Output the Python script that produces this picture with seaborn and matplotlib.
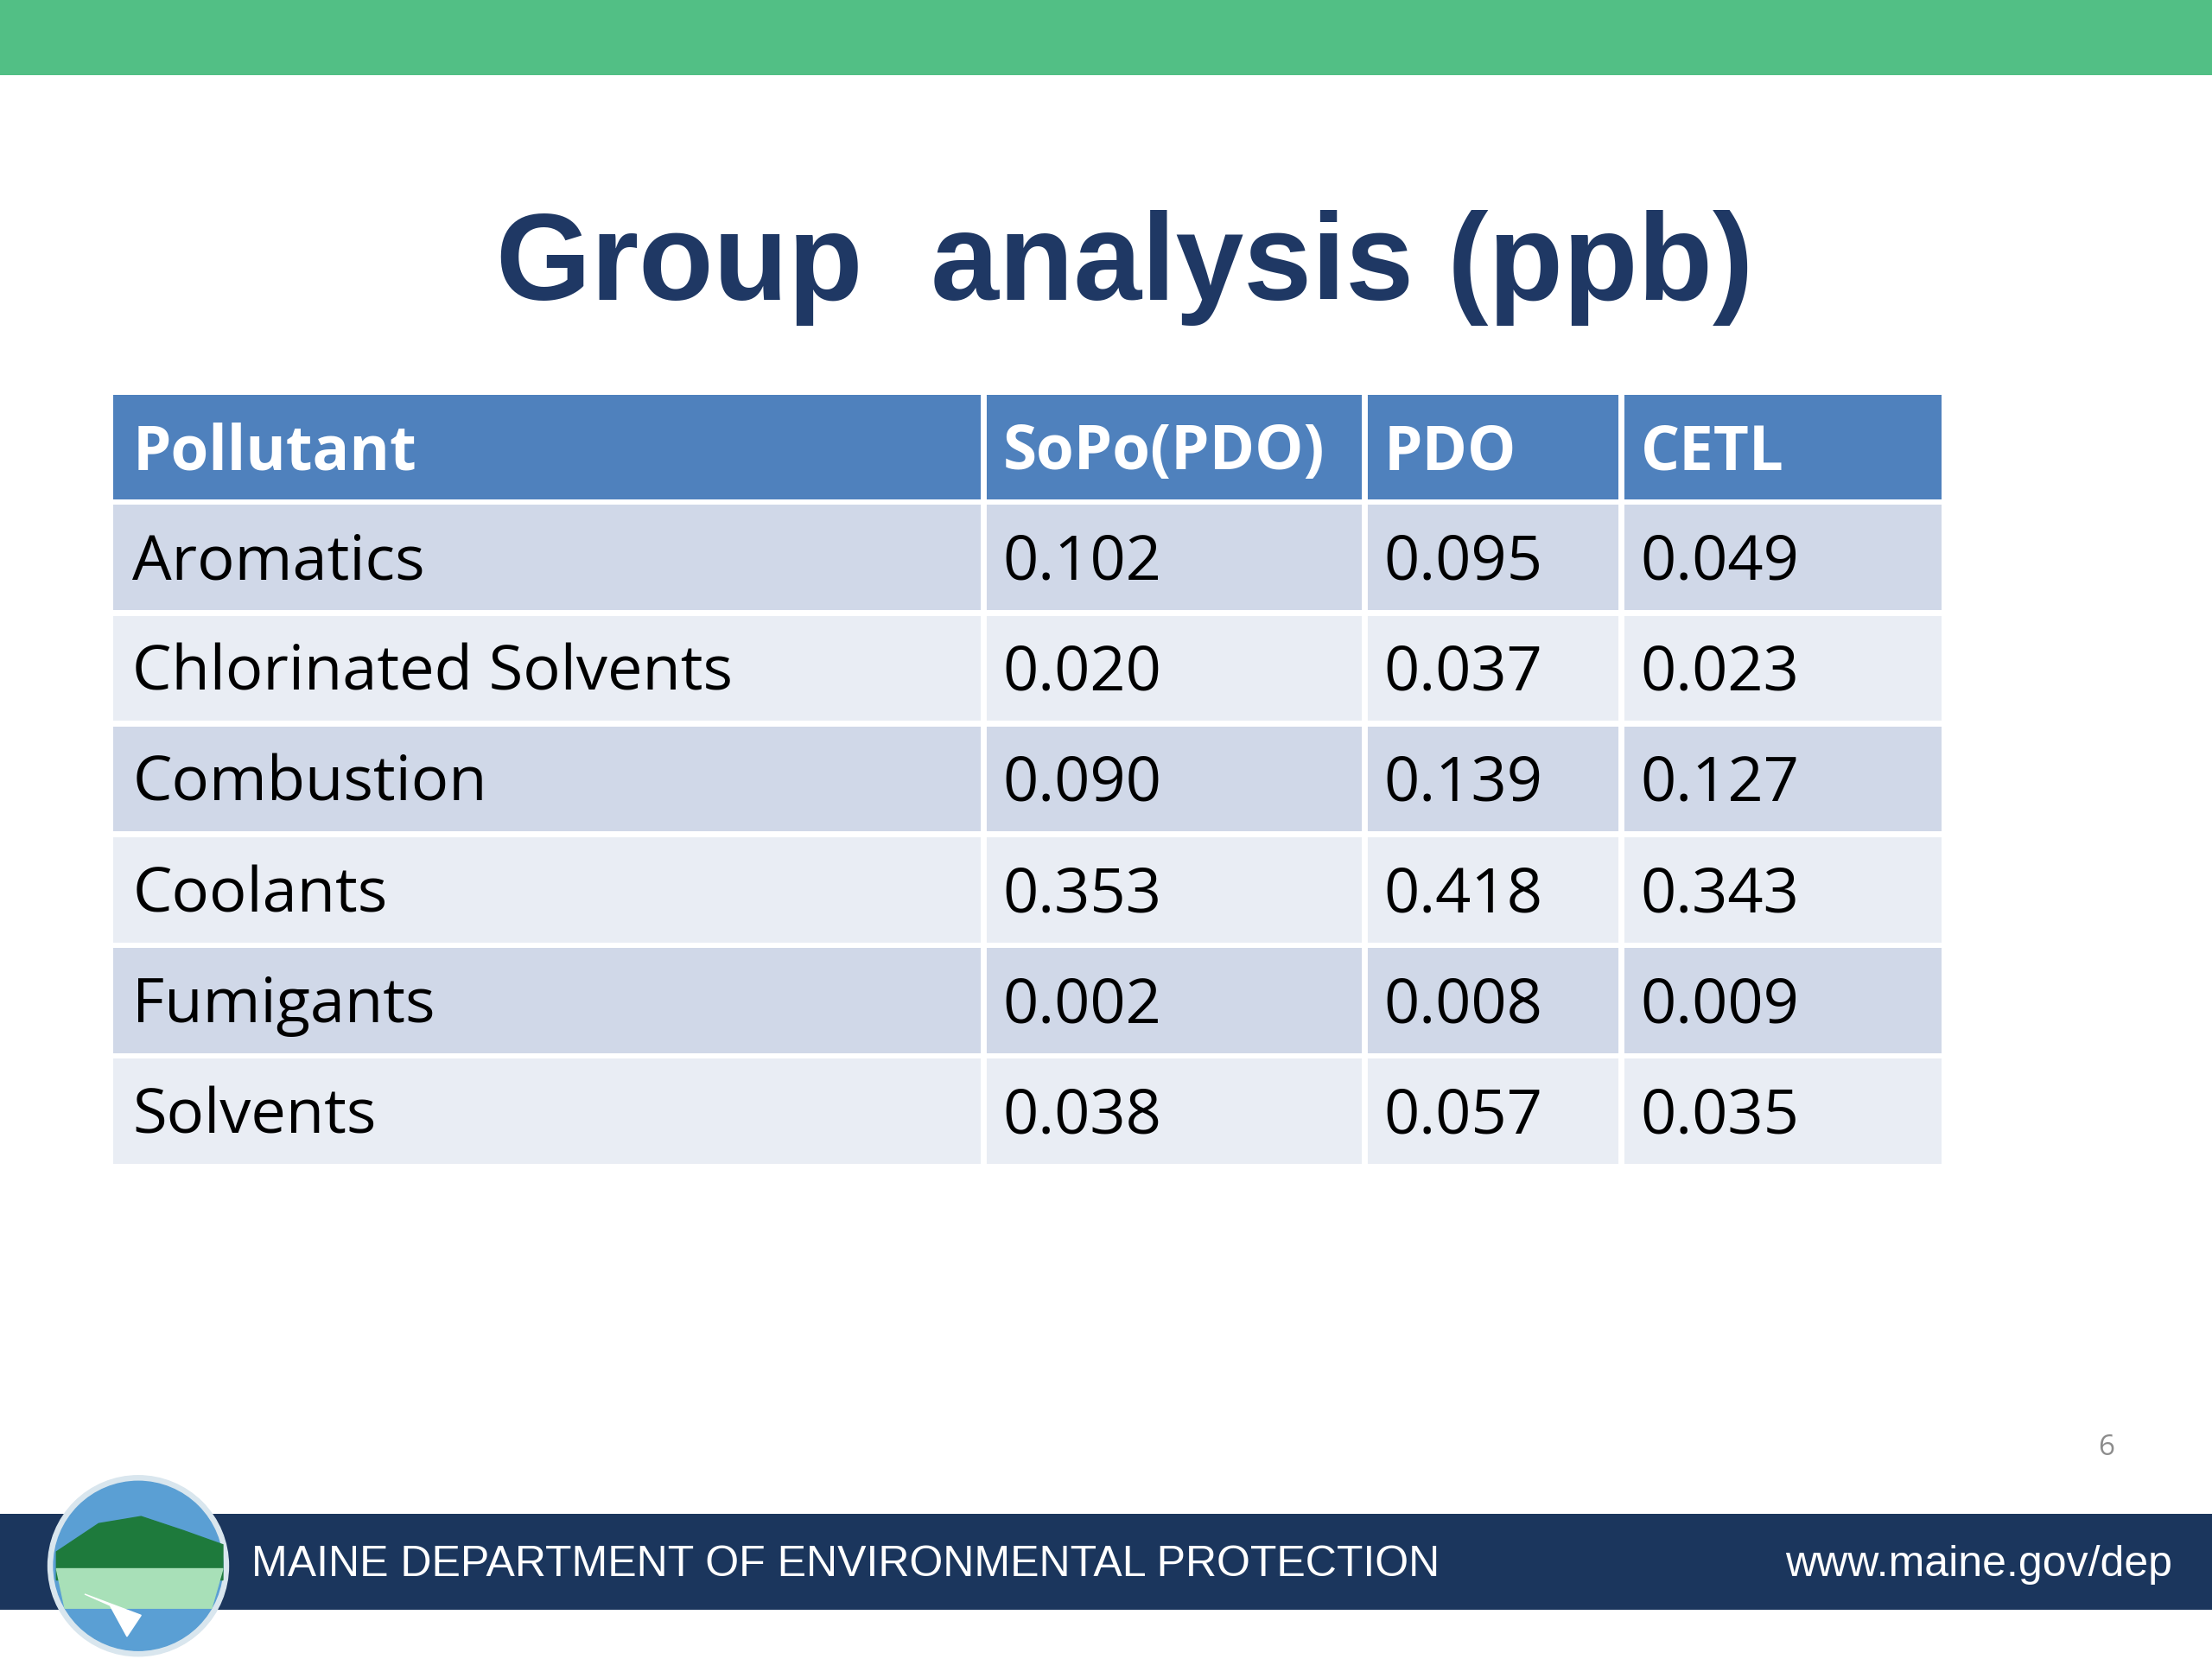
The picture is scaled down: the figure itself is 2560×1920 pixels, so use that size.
import matplotlib
matplotlib.use("Agg")
import matplotlib.pyplot as plt
import seaborn as sns
from matplotlib.patches import Rectangle, Circle, Polygon

sns.set_style("white")
plt.rcParams['font.family'] = ['Open Sans', 'DejaVu Sans']

# Table data
columns = ["Pollutant", "SoPo(PDO)", "PDO", "CETL"]
pollutants = ["Aromatics", "Chlorinated Solvents", "Combustion", "Coolants", "Fumigants", "Solvents"]
sopo_pdo = ["0.102", "0.020", "0.090", "0.353", "0.002", "0.038"]
pdo = ["0.095", "0.037", "0.139", "0.418", "0.008", "0.057"]
cetl = ["0.049", "0.023", "0.127", "0.343", "0.009", "0.035"]

W, H = 1568, 1176
fig = plt.figure(figsize=(25.6, 19.2), dpi=100)
ax = fig.add_axes([0, 0, 1, 1])
ax.set_xlim(0, W)
ax.set_ylim(H, 0)
ax.axis("off")

# top green band
ax.add_patch(Rectangle((0, 0), W, 53, color="#52bf85", lw=0))

ax.text(797, 190, "Group  analysis (ppb)", ha="center", va="center",
        fontsize=102, fontweight="bold", color="#1f3864", family="Liberation Sans")

# table layout
col_edges = [80, 697, 967, 1149, 1376]
header_top, header_h, row_h, gap = 280, 74, 78.5, 4
header_c, odd_c, even_c = "#4f81bd", "#d0d8e8", "#e9edf4"

for j, name in enumerate(columns):
    x0, x1 = col_edges[j], col_edges[j + 1]
    ax.add_patch(Rectangle((x0, header_top), x1 - x0, header_h, color=header_c, lw=0))
    ax.text(x0 + 14, header_top + header_h / 2 + 4, name, ha="left", va="center",
            fontsize=51, fontweight="bold", color="white", family="Open Sans")

cols_data = [pollutants, sopo_pdo, pdo, cetl]
for i in range(len(pollutants)):
    y0 = header_top + header_h + gap + i * row_h
    c = odd_c if i % 2 == 0 else even_c
    for j in range(len(columns)):
        x0, x1 = col_edges[j], col_edges[j + 1]
        ax.add_patch(Rectangle((x0, y0), x1 - x0, row_h - gap, color=c, lw=0))
        ax.text(x0 + 14, y0 + (row_h - gap) / 2 + 4, cols_data[j][i], ha="left", va="center",
                fontsize=52, color="black", family="Open Sans")

# vertical white separators
for x in col_edges[1:-1]:
    ax.plot([x, x], [header_top, header_top + header_h + gap + 6 * row_h], color="white", lw=5)

# page number
ax.text(1493, 1026, "6", ha="center", va="center", fontsize=24, color="#8c8c8c")

# footer band
ax.add_patch(Rectangle((0, 1073), W, 68, color="#1b365d", lw=0))
ax.text(178, 1109, "MAINE DEPARTMENT OF ENVIRONMENTAL PROTECTION", ha="left", va="center",
        fontsize=36, color="white", family="Liberation Sans")
ax.text(1540, 1109, "www.maine.gov/dep", ha="right", va="center",
        fontsize=36, color="white", family="Liberation Sans")

# logo
ax.add_patch(Circle((98, 1110), 64, color="#d9e6ee", zorder=5))
ax.add_patch(Circle((98, 1110), 60, color="#5a9fd4", zorder=6))
ax.add_patch(Polygon([(40, 1100), (70, 1080), (100, 1075), (130, 1085), (158, 1095),
                      (158, 1120), (40, 1120)], color="#1e7a3c", zorder=7))
ax.add_patch(Polygon([(40, 1112), (158, 1112), (150, 1140), (46, 1140)], color="#a8e0b8", zorder=8))
ax.add_patch(Polygon([(60, 1130), (100, 1145), (90, 1160), (78, 1138)], color="white", zorder=9))

fig.savefig("out.png", dpi=100)
